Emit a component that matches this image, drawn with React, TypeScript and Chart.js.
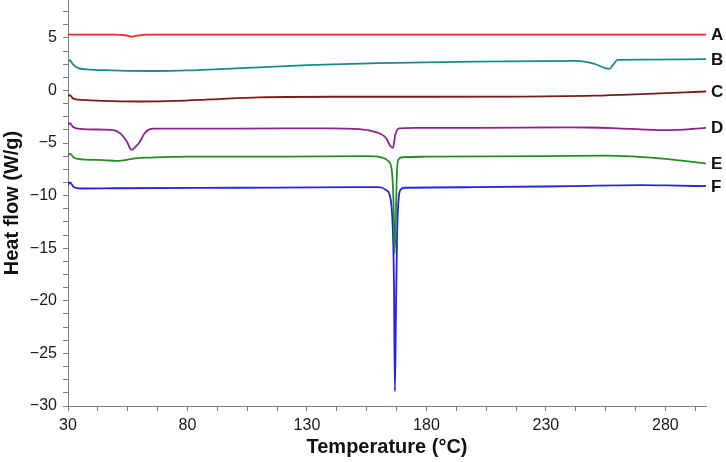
import React, { useEffect, useRef } from "react";
import { Chart, registerables } from "chart.js";

Chart.register(...registerables);

// ---- Data (Temperature °C / Heat flow W/g) ----
const seriesNames = ["A", "B", "C", "D", "E", "F"];
const seriesColors = ["#f02a2a", "#198a8a", "#7d1b1b", "#8c238f", "#238f23", "#2424e8"];

const tA = [30, 50, 54, 56.5, 59, 63, 100, 150, 200, 250, 297];
const vA = [5.3, 5.3, 5.25, 5.12, 5.22, 5.3, 5.3, 5.3, 5.3, 5.3, 5.3];

const tB = [30, 30.8, 32, 34, 38, 45, 55, 65, 80, 100, 130, 160, 200, 243, 250, 256.5, 258, 260, 270, 297];
const vB = [2.7, 2.88, 2.5, 2.15, 2.0, 1.93, 1.87, 1.85, 1.9, 2.1, 2.4, 2.6, 2.75, 2.82, 2.55, 2.05, 2.4, 2.9, 2.93, 2.97];

const tC = [30, 30.8, 32, 36, 45, 60, 75, 90, 110, 140, 180, 220, 250, 270, 297];
const vC = [-0.55, -0.45, -0.75, -0.9, -1.0, -1.05, -1.0, -0.85, -0.65, -0.6, -0.6, -0.58, -0.5, -0.35, -0.1];

const tD = [30, 30.8, 32, 35, 45, 49, 52, 54.5, 56.6, 58.5, 60, 62, 64, 66, 100, 140, 150, 156, 160, 163, 165, 166, 167, 168.5, 175, 200, 240, 260, 280, 297];
const vD = [-3.3, -3.1, -3.45, -3.65, -3.72, -3.78, -4.1, -4.8, -5.65, -5.3, -4.9, -4.1, -3.7, -3.62, -3.62, -3.6, -3.65, -3.8, -4.05, -4.5, -5.3, -5.45, -4.2, -3.6, -3.55, -3.55, -3.5, -3.6, -3.78, -3.55];

const tE = [30, 30.8, 32.5, 36, 45, 50, 53, 58, 65, 80, 120, 155, 161, 164, 165.5, 166.2, 166.7, 167.2, 167.6, 168.2, 170, 180, 230, 255, 280, 297];
const vE = [-6.2, -6.0, -6.4, -6.55, -6.62, -6.7, -6.65, -6.45, -6.38, -6.3, -6.3, -6.25, -6.35, -6.7, -7.6, -10.5, -15.5, -12, -8, -6.6, -6.35, -6.3, -6.25, -6.2, -6.5, -6.95];

const tF = [30, 30.8, 32.5, 35, 50, 100, 150, 160, 163, 164.8, 165.8, 166.4, 166.8, 167.2, 167.7, 168.3, 169, 171, 200, 240, 270, 285, 297];
const vF = [-9.0, -8.75, -9.2, -9.32, -9.3, -9.25, -9.2, -9.2, -9.45, -10.1, -12.5, -18, -28.6, -22, -14, -10.5, -9.5, -9.25, -9.2, -9.1, -9.0, -9.05, -9.1];

const seriesT = [tA, tB, tC, tD, tE, tF];
const seriesV = [vA, vB, vC, vD, vE, vF];

// ---- Axes ----
const xMin = 30;
const xMax = 297;
const xTicks = [30, 42.5, 55, 67.5, 80, 92.5, 105, 117.5, 130, 142.5, 155, 167.5, 180, 192.5, 205, 217.5, 230, 242.5, 255, 267.5, 280, 292.5];
const xLabeled = [30, 80, 130, 180, 230, 280];

const yMin = -30;
const yMax = 8.6;
const yTicks = [-30, -28.75, -27.5, -26.25, -25, -23.75, -22.5, -21.25, -20, -18.75, -17.5, -16.25, -15, -13.75, -12.5, -11.25, -10, -8.75, -7.5, -6.25, -5, -3.75, -2.5, -1.25, 0, 1.25, 2.5, 3.75, 5, 6.25, 7.5];
const yLabeled = [-30, -25, -20, -15, -10, -5, 0, 5];

const xTitle = "Temperature (°C)";
const yTitle = "Heat flow (W/g)";

const FONT = "'Liberation Sans', Arial, Helvetica, sans-serif";

const labelsPlugin = {
  id: "dscLabels",
  afterDraw(chart: any) {
    const { ctx, chartArea, scales } = chart;
    ctx.save();
    ctx.fillStyle = "#111";
    ctx.font = `bold 17px ${FONT}`;
    ctx.textAlign = "left";
    ctx.textBaseline = "middle";
    seriesNames.forEach((n, i) => {
      const vals = seriesV[i];
      const y = scales.y.getPixelForValue(vals[vals.length - 1]);
      ctx.fillText(n, chartArea.right + 5, y + 1);
    });
    ctx.font = `bold 20px ${FONT}`;
    ctx.textAlign = "center";
    ctx.textBaseline = "middle";
    ctx.fillText(xTitle, (chartArea.left + chartArea.right) / 2, 447);
    ctx.translate(12, (chartArea.top + chartArea.bottom) / 2);
    ctx.rotate(-Math.PI / 2);
    ctx.fillText(yTitle, 0, 0);
    ctx.restore();
  },
};

const fmt = (v: number) => (v < 0 ? "\u2212" + Math.abs(v) : String(v));

export default function App() {
  const ref = useRef<HTMLCanvasElement | null>(null);

  useEffect(() => {
    if (!ref.current) return;
    const datasets = seriesNames.map((name, i) => ({
      label: name,
      data: seriesT[i].map((t, j) => ({ x: t, y: seriesV[i][j] })),
      borderColor: seriesColors[i],
      backgroundColor: seriesColors[i],
      borderWidth: 1.8,
      pointRadius: 0,
      fill: false,
      cubicInterpolationMode: "monotone" as const,
    }));

    const chart = new Chart(ref.current, {
      type: "line",
      data: { datasets },
      options: {
        animation: false,
        responsive: false,
        devicePixelRatio: 1,
        layout: { padding: { left: 0, right: 20, top: 0, bottom: 0 } },
        plugins: {
          legend: { display: false },
          tooltip: { enabled: false },
        },
        scales: {
          x: {
            type: "linear",
            min: xMin,
            max: xMax,
            afterBuildTicks: (scale: any) => {
              scale.ticks = xTicks.map((v) => ({ value: v }));
            },
            afterFit: (scale: any) => {
              scale.height = 56;
              scale.paddingLeft = 0;
              scale.paddingRight = 0;
            },
            border: { display: true, color: "#808080", width: 1 },
            grid: {
              display: true,
              drawOnChartArea: false,
              drawTicks: true,
              tickLength: 5,
              color: "#808080",
              tickColor: "#808080",
            },
            ticks: {
              autoSkip: false,
              maxRotation: 0,
              padding: 5,
              color: "#1a1a1a",
              font: { family: FONT, size: 16 },
              callback: (v: any) => (xLabeled.includes(Number(v)) ? String(v) : ""),
            },
          },
          y: {
            type: "linear",
            min: yMin,
            max: yMax,
            afterBuildTicks: (scale: any) => {
              scale.ticks = yTicks.map((v) => ({ value: v }));
            },
            afterFit: (scale: any) => {
              scale.width = 68;
              scale.paddingTop = 0;
              scale.paddingBottom = 0;
            },
            border: { display: true, color: "#808080", width: 1 },
            grid: {
              display: true,
              drawOnChartArea: false,
              drawTicks: true,
              tickLength: 5,
              color: "#808080",
              tickColor: "#808080",
            },
            ticks: {
              autoSkip: false,
              padding: 6,
              color: "#1a1a1a",
              font: { family: FONT, size: 16 },
              callback: (v: any) => (yLabeled.includes(Number(v)) ? fmt(Number(v)) : ""),
            },
          },
        },
      },
      plugins: [labelsPlugin],
    });
    return () => chart.destroy();
  }, []);

  return (
    <div style={{ position: "fixed", left: 0, top: 0, width: 726, height: 462, background: "#fff" }}>
      <canvas ref={ref} width={726} height={462} style={{ display: "block", width: 726, height: 462 }} />
    </div>
  );
}
